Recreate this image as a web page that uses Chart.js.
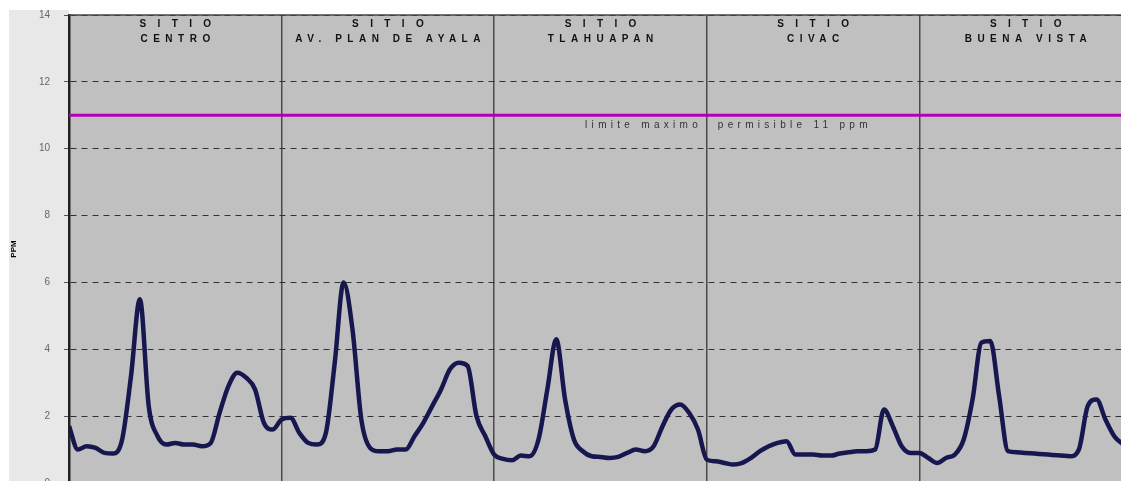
<!DOCTYPE html>
<html>
<head>
<meta charset="utf-8">
<script src="https://cdn.jsdelivr.net/npm/chart.js@4/dist/chart.umd.min.js"></script>
<style>
    html, body { margin: 0; padding: 0; background: #fff; overflow: hidden; }
    #wrap { width: 1121px; height: 481px; overflow: hidden; position: relative; }
    #pmChart { position: absolute; left: 0; top: 0; }
</style>
</head>
<body>
<div id="wrap"><canvas id="pmChart" width="1140" height="490"></canvas></div>
<script>
// one line per site, hourly readings (ppm)
const siteNames = ["CENTRO", "AV. PLAN DE AYALA", "TLAHUAPAN", "CIVAC", "BUENA VISTA"];

const centro = [1.7, 1.0, 1.1, 1.05, 0.9, 0.88, 1.3, 3.2, 5.5, 2.3, 1.4, 1.15,
    1.2, 1.15, 1.15, 1.1, 1.2, 2.1, 2.9, 3.3, 3.15, 2.8, 1.8, 1.6];
const planDeAyala = [1.9, 1.95, 1.5, 1.2, 1.15, 1.5, 3.6, 6.0, 4.6, 1.9, 1.05, 0.95,
    0.95, 1.0, 1.0, 1.4, 1.8, 2.3, 2.8, 3.4, 3.6, 3.5, 2.0, 1.4];
const tlahuapan = [0.85, 0.72, 0.68, 0.82, 0.8, 1.3, 2.8, 4.3, 2.5, 1.3, 0.95, 0.8,
    0.78, 0.75, 0.78, 0.9, 1.0, 0.95, 1.1, 1.7, 2.2, 2.35, 2.1, 1.6];
const civac = [0.7, 0.65, 0.6, 0.55, 0.6, 0.75, 0.95, 1.1, 1.2, 1.25, 0.85, 0.85,
    0.85, 0.82, 0.82, 0.88, 0.92, 0.95, 0.95, 1.0, 2.2, 1.7, 1.1, 0.9];
const buenaVista = [0.9, 0.75, 0.6, 0.75, 0.85, 1.3, 2.5, 4.2, 4.25, 2.6, 0.95, 0.92,
    0.9, 0.88, 0.86, 0.84, 0.82, 0.8, 1.0, 2.3, 2.5, 1.9, 1.4, 1.15];

const siteSeries = [centro, planDeAyala, tlahuapan, civac, buenaVista];
const hoursPerSite = 24;
const yTicks = [0, 2, 4, 6, 8, 10, 12, 14];
const limitValue = 11;

const points = [];
siteSeries.forEach((vals, s) => {
    vals.forEach((v, h) => points.push({ x: s * hoursPerSite + h, y: v }));
});
const totalHours = siteSeries.length * hoursPerSite;

const FONT = '"Liberation Sans", Arial, sans-serif';

const backdrop = {
    id: 'backdrop',
    beforeDraw(chart) {
        const { ctx, chartArea: a } = chart;
        ctx.save();
        ctx.fillStyle = '#ffffff';
        ctx.fillRect(0, 0, chart.width, chart.height);
        ctx.fillStyle = '#e8e8e8';
        ctx.fillRect(9, 10, a.left - 9, chart.height);
        ctx.fillStyle = '#c0c0c0';
        ctx.fillRect(a.left, a.top, a.right - a.left, a.bottom - a.top);
        ctx.restore();
    },
    afterDraw(chart) {
        const { ctx, chartArea: a, scales } = chart;
        ctx.save();
        // frame on top
        ctx.strokeStyle = '#444';
        ctx.lineWidth = 1.5;
        ctx.beginPath();
        ctx.moveTo(a.left, a.top);
        ctx.lineTo(a.right, a.top);
        ctx.stroke();

        // site headers
        ctx.fillStyle = '#111';
        ctx.font = 'bold 10px ' + FONT;
        ctx.textAlign = 'left';
        ctx.textBaseline = 'middle';
        siteNames.forEach((name, s) => {
            const cx = (scales.x.getPixelForValue(s * hoursPerSite) +
                scales.x.getPixelForValue((s + 1) * hoursPerSite)) / 2;
            [['S I T I O', 4.3, 24], [name, 5.5, 39]].forEach(([txt, ls, y]) => {
                ctx.letterSpacing = ls + 'px';
                const w = ctx.measureText(txt).width - ls;
                ctx.fillText(txt, cx - w / 2, y);
            });
        });

        // limit label
        const px = scales.x.getPixelForValue(72);
        const py = scales.y.getPixelForValue(limitValue) + 10;
        ctx.font = '10px ' + FONT;
        ctx.fillStyle = '#333';
        ctx.letterSpacing = '4.3px';
        const left = 'limite maximo';
        ctx.fillText(left, px - 9 - ctx.measureText(left).width + 4.3, py);
        ctx.fillText('permisible 11 ppm', px + 11, py);
        ctx.restore();
    }
};

const chart = new Chart(document.getElementById('pmChart'), {
    type: 'line',
    data: {
        datasets: [{
            label: 'PM',
            data: points,
            borderColor: '#17174f',
            borderWidth: 4.5,
            pointRadius: 0,
            cubicInterpolationMode: 'monotone',
            order: 1
        }, {
            label: 'limite',
            data: [{ x: 0, y: limitValue }, { x: totalHours, y: limitValue }],
            borderColor: '#b400b4',
            borderWidth: 3,
            pointRadius: 0,
            order: 2
        }]
    },
    options: {
        responsive: false,
        animation: false,
        devicePixelRatio: 1,
        layout: { autoPadding: false, padding: { left: 0, top: 15, right: 8, bottom: 7 } },
        plugins: { legend: { display: false }, tooltip: { enabled: false } },
        scales: {
            x: {
                type: 'linear',
                min: 0,
                max: totalHours,
                ticks: { display: false, stepSize: hoursPerSite },
                grid: { color: '#4a4a4a', lineWidth: 1.5, drawTicks: false },
                border: { display: false },
                afterFit(scale) { scale.height = 0; }
            },
            y: {
                min: 0,
                max: 14,
                afterBuildTicks(scale) { scale.ticks = yTicks.map(v => ({ value: v })); },
                ticks: {
                    color: '#666',
                    padding: 14,
                    font: { family: FONT, size: 10 }
                },
                grid: {
                    color: '#333',
                    lineWidth: 1,
                    tickLength: 5,
                    tickColor: '#555',
                    tickBorderDash: []
                },
                border: { color: '#222', width: 2.5, dash: [6, 5] },
                title: {
                    display: true,
                    text: 'PPM',
                    color: '#000',
                    padding: { top: 9, bottom: 0 },
                    font: { family: FONT, size: 8, weight: 'bold' }
                },
                afterFit(scale) {
                    scale.width = 69;
                    scale.paddingTop = 0;
                    scale.paddingBottom = 0;
                }
            }
        }
    },
    plugins: [backdrop]
});
</script>
</body>
</html>
